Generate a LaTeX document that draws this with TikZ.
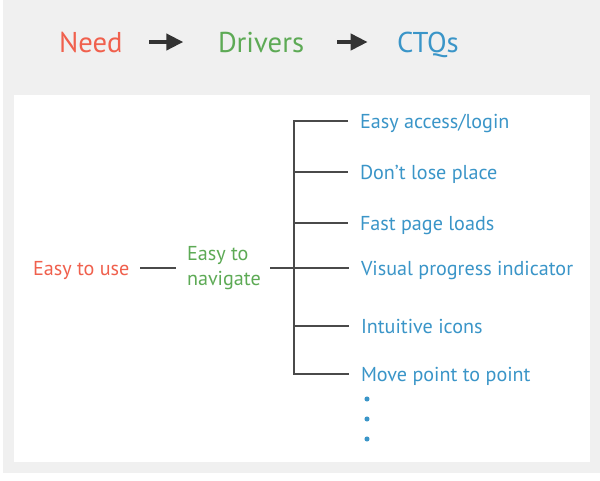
\documentclass[tikz,border=0pt]{standalone}
\usepackage{fontspec}
\setmainfont{PT Sans}
\usetikzlibrary{positioning,arrows.meta}
\definecolor{needred}{HTML}{F0604D}
\definecolor{drivegreen}{HTML}{5DAA55}
\definecolor{ctqblue}{HTML}{3A95C8}
\definecolor{panelgray}{HTML}{F0F0F0}
\definecolor{linegray}{HTML}{4A4A4A}

\begin{document}
\begin{tikzpicture}[x=0.75pt,y=-0.75pt,
    every node/.style={inner sep=0pt,outer sep=0pt,anchor=west},
    title/.style={font=\fontsize{21.5}{25}\selectfont,text height=15pt,text depth=0pt},
    leaf/.style={font=\fontsize{15.1}{18.75}\selectfont,text=ctqblue,text height=10.6pt,text depth=0pt},
    link/.style={draw=linegray,line width=1.9pt},
    flow/.style={-{Triangle[length=12.75pt,width=12pt]},line width=3pt,draw=black!80}]

    \useasboundingbox (0,0) rectangle (600,480);
    %panels
    \fill[panelgray] (3,0) rectangle (600,473);
    \fill[white] (14,95) rectangle (590,462);

    %header: need -> drivers -> ctqs
    \node[title,text=needred] (need) at (59,42) {Need};
    \node[title,text=drivegreen] (drivers) at (218,42) {Drivers};
    \node[title,text=ctqblue] (ctqs) at (397,42) {CTQs};
    \draw[flow,shorten <=20pt,shorten >=26pt] (need.east) -- (drivers.west);
    \draw[flow,shorten <=25pt,shorten >=22pt] (drivers.east) -- (ctqs.west);

    %need and driver
    \node[leaf,text=needred] (use) at (33,268) {Easy to use};
    \node[font=\fontsize{15.1}{18.75}\selectfont,text=drivegreen,align=left] (nav) at (187,268) {Easy to\\navigate};
    \coordinate (trunk) at (294,268);

    %ctqs
    \node[leaf] (l1) at (360,121) {Easy access/login};
    \node[leaf] (l2) at (360,172) {Don’t lose place};
    \node[leaf] (l3) at (360,223) {Fast page loads};
    \node[leaf] (l4) at (361,268) {Visual progress indicator};
    \node[leaf] (l5) at (361,326) {Intuitive icons};
    \node[leaf] (l6) at (361,374) {Move point to point};

    %tree lines
    \draw[link,shorten <=8pt,shorten >=8pt] (use.east) -- (use.east -| nav.west);
    \draw[link,shorten <=7pt] (nav.east |- trunk) -- (trunk);
    \draw[link,shorten <=9pt,shorten >=9pt] (l1.west) -- (trunk |- l1.west)
        -- (trunk |- l6.west) -- (l6.west);
    \foreach \n in {l2,l3,l4,l5}
        \draw[link,shorten >=9pt] (trunk |- \n.west) -- (\n.west);

    %more ctqs
    \foreach \y in {399,419,439}
        \fill[ctqblue] (367,\y) circle (1.9pt);
\end{tikzpicture}
\end{document}
